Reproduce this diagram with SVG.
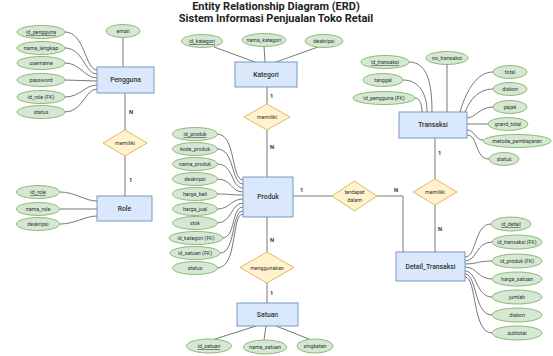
<svg xmlns="http://www.w3.org/2000/svg" width="553" height="356" viewBox="0 0 553 356">
<style>
text{font-family:Roboto,"Liberation Sans",Arial,sans-serif;fill:#333}
.title{font-size:11px;font-weight:700;fill:#222}
.ent rect{fill:#dae8fc;stroke:#6c8ebf;stroke-width:0.9}
.ent text{font-size:6.8px;font-weight:500;text-anchor:middle;dominant-baseline:central}
.att ellipse{fill:#d5e8d4;stroke:#82b366;stroke-width:0.9}
.att text{font-size:5.3px;text-anchor:middle;dominant-baseline:central}
.pk text{text-decoration:underline}
.rel polygon{fill:#fff2cc;stroke:#d6b656;stroke-width:0.9}
.rel text{font-size:5.3px;text-anchor:middle;dominant-baseline:central}
#connectors path{fill:none;stroke:#555;stroke-width:0.8}
.card{font-size:5.8px;font-weight:700;dominant-baseline:central}
</style>
<rect width="553" height="356" fill="#fff"/>
<text class="title" x="276" y="10" text-anchor="middle">Entity Relationship Diagram (ERD)</text>
<text class="title" x="276" y="22" text-anchor="middle">Sistem Informasi Penjualan Toko Retail</text>

<g id="connectors">
<!-- Pengguna attrs -->
<path d="M123,37 L123,67"/>
<path d="M65,32 C85,32 85,70 97,70"/>
<path d="M65,48 C83,48 85,74 97,74"/>
<path d="M65,63 C80,63 85,78 97,78"/>
<path d="M65,80 L97,81"/>
<path d="M65,97 C80,97 85,85 97,85"/>
<path d="M65,112 C83,112 85,89 97,89"/>
<!-- Pengguna-Role -->
<path d="M125,93 L125,130"/>
<path d="M125,156 L125,196"/>
<!-- Role attrs -->
<path d="M60,192 C75,192 85,201 97,201"/>
<path d="M60,209 L97,209"/>
<path d="M60,224 C75,224 85,216 97,216"/>
<!-- Kategori attrs -->
<path d="M214,47 L255,62"/>
<path d="M264,46 L265,62"/>
<path d="M318,47 L276,62"/>
<!-- Kategori-Produk -->
<path d="M267,87 L267,104"/>
<path d="M267,130 L267,177"/>
<!-- Produk attrs -->
<path d="M217,134 C236,134 231,180 243,180"/>
<path d="M217,149 C235,149 231,184 243,184"/>
<path d="M217,164 C234,164 231,188 243,188"/>
<path d="M217,179 C232,179 231,192 243,192"/>
<path d="M217,194 C230,194 231,195 243,195"/>
<path d="M217,209 C230,209 231,199 243,199"/>
<path d="M217,223 C232,223 231,203 243,203"/>
<path d="M222,238 C236,238 231,207 243,207"/>
<path d="M220,253 C236,253 231,211 243,211"/>
<path d="M217,268 C238,268 231,214 243,214"/>
<!-- Produk-Satuan -->
<path d="M267,217 L267,252"/>
<path d="M267,283 L267,303"/>
<!-- Satuan attrs -->
<path d="M256,326 L215,339"/>
<path d="M266,326 L264,340"/>
<path d="M276,326 L309,339"/>
<!-- Produk-Detail -->
<path d="M293,196 L332,196"/>
<path d="M377,196 L403,196 L403,252"/>
<!-- Transaksi attrs -->
<path d="M447,64 L447,112"/>
<path d="M409,62 C428,62 432,85 432,112"/>
<path d="M403,80 C420,80 427,95 427,112"/>
<path d="M415,98 C420,98 422,105 422,112"/>
<path d="M493,72 C475,72 465,95 460,112"/>
<path d="M493,89 C478,89 470,100 465,112"/>
<path d="M493,107 C480,107 475,118 467,118"/>
<path d="M488,124 L467,124"/>
<path d="M483,140 C475,140 475,130 467,130"/>
<path d="M489,159 C475,159 478,135 467,135"/>
<!-- Transaksi-Detail -->
<path d="M435,138 L435,179"/>
<path d="M435,205 L435,252"/>
<!-- Detail attrs -->
<path d="M491,224 C474,224 477,257 465,257"/>
<path d="M492,242 C476,242 477,261 465,261"/>
<path d="M492,261 C478,261 477,264 465,264"/>
<path d="M492,279 C478,279 477,267 465,267"/>
<path d="M492,297 C476,297 477,271 465,271"/>
<path d="M492,315 C474,315 477,274 465,274"/>
<path d="M492,333 C472,333 477,277 465,277"/>
</g>

<text class="card" x="129" y="112">N</text>
<text class="card" x="129" y="180">1</text>
<text class="card" x="270" y="96">1</text>
<text class="card" x="270" y="147">N</text>
<text class="card" x="270" y="240">N</text>
<text class="card" x="270" y="293">1</text>
<text class="card" x="300" y="190">1</text>
<text class="card" x="394" y="190">N</text>
<text class="card" x="438" y="153">1</text>
<text class="card" x="438" y="229">N</text>

<!-- Entities -->
<g id="pengguna" class="ent"><rect x="97" y="67" width="57" height="26"/><text x="125.5" y="80">Pengguna</text></g>
<g id="role" class="ent"><rect x="97" y="196" width="55" height="25"/><text x="124.5" y="208.5">Role</text></g>
<g id="kategori" class="ent"><rect x="235" y="62" width="62" height="25"/><text x="266" y="74.5">Kategori</text></g>
<g id="produk" class="ent"><rect x="243" y="177" width="50" height="40"/><text x="268" y="197">Produk</text></g>
<g id="satuan" class="ent"><rect x="237" y="303" width="61" height="23"/><text x="267.5" y="314.5">Satuan</text></g>
<g id="transaksi" class="ent"><rect x="399" y="112" width="68" height="26"/><text x="433" y="125">Transaksi</text></g>
<g id="detail_transaksi" class="ent"><rect x="396" y="252" width="69" height="29"/><text x="430.5" y="266.5">Detail_Transaksi</text></g>

<!-- Relationships -->
<g id="rel_pengguna_role" class="rel"><polygon points="125,130 147,143 125,156 103,143"/><text x="125" y="143">memiliki</text></g>
<g id="rel_kategori_produk" class="rel"><polygon points="267,104 290,117 267,130 244,117"/><text x="267" y="117">memiliki</text></g>
<g id="rel_produk_satuan" class="rel"><polygon points="267,252 294,267.5 267,283 240,267.5"/><text x="267" y="267.5">menggunakan</text></g>
<g id="rel_terdapat" class="rel"><polygon points="354.5,181 377,196 354.5,211 332,196"/><text x="354.5" y="192">terdapat</text><text x="354.5" y="200">dalam</text></g>
<g id="rel_transaksi_detail" class="rel"><polygon points="435,179 457,192 435,205 413,192"/><text x="435" y="192">memiliki</text></g>

<!-- Pengguna attributes -->
<g id="a_email" class="att"><ellipse cx="123" cy="31" rx="17" ry="6.5"/><text x="123" y="31">email</text></g>
<g id="a_id_pengguna" class="att pk"><ellipse cx="41" cy="32" rx="24" ry="6.5"/><text x="41" y="32">id_pengguna</text></g>
<g id="a_nama_lengkap" class="att"><ellipse cx="41" cy="48" rx="24" ry="6.5"/><text x="41" y="48">nama_lengkap</text></g>
<g id="a_username" class="att"><ellipse cx="41" cy="63" rx="24" ry="6.5"/><text x="41" y="63">username</text></g>
<g id="a_password" class="att"><ellipse cx="41" cy="80" rx="24" ry="6.5"/><text x="41" y="80">password</text></g>
<g id="a_id_role_fk" class="att"><ellipse cx="41" cy="97" rx="24" ry="6.5"/><text x="41" y="97">id_role (FK)</text></g>
<g id="a_pengguna_status" class="att"><ellipse cx="41" cy="112" rx="24" ry="6.5"/><text x="41" y="112">status</text></g>

<!-- Role attributes -->
<g id="a_id_role" class="att pk"><ellipse cx="38" cy="192" rx="21.5" ry="6.5"/><text x="38" y="192">id_role</text></g>
<g id="a_nama_role" class="att"><ellipse cx="38" cy="209" rx="21.5" ry="6.5"/><text x="38" y="209">nama_role</text></g>
<g id="a_role_deskripsi" class="att"><ellipse cx="38" cy="224" rx="21.5" ry="6.5"/><text x="38" y="224">deskripsi</text></g>

<!-- Kategori attributes -->
<g id="a_id_kategori" class="att pk"><ellipse cx="202" cy="41" rx="20.5" ry="6.5"/><text x="202" y="41">id_kategori</text></g>
<g id="a_nama_kategori" class="att"><ellipse cx="264" cy="40" rx="22" ry="6.5"/><text x="264" y="40">nama_kategori</text></g>
<g id="a_kategori_deskripsi" class="att"><ellipse cx="324" cy="41" rx="19" ry="6.5"/><text x="324" y="41">deskripsi</text></g>

<!-- Produk attributes -->
<g id="a_id_produk" class="att pk"><ellipse cx="195" cy="134" rx="22.5" ry="6.5"/><text x="195" y="134">id_produk</text></g>
<g id="a_kode_produk" class="att"><ellipse cx="195" cy="149" rx="22.5" ry="6.5"/><text x="195" y="149">kode_produk</text></g>
<g id="a_nama_produk" class="att"><ellipse cx="195" cy="164" rx="22.5" ry="6.5"/><text x="195" y="164">nama_produk</text></g>
<g id="a_produk_deskripsi" class="att"><ellipse cx="195" cy="179" rx="22.5" ry="6.5"/><text x="195" y="179">deskripsi</text></g>
<g id="a_harga_beli" class="att"><ellipse cx="195" cy="194" rx="22.5" ry="6.5"/><text x="195" y="194">harga_beli</text></g>
<g id="a_harga_jual" class="att"><ellipse cx="195" cy="209" rx="22.5" ry="6.5"/><text x="195" y="209">harga_jual</text></g>
<g id="a_stok" class="att"><ellipse cx="195" cy="223" rx="22.5" ry="6.5"/><text x="195" y="223">stok</text></g>
<g id="a_id_kategori_fk" class="att"><ellipse cx="196" cy="238" rx="27" ry="6.5"/><text x="196" y="238">id_kategori (FK)</text></g>
<g id="a_id_satuan_fk" class="att"><ellipse cx="195" cy="253" rx="25" ry="6.5"/><text x="195" y="253">id_satuan (FK)</text></g>
<g id="a_produk_status" class="att"><ellipse cx="195" cy="268" rx="22.5" ry="6.5"/><text x="195" y="268">status</text></g>

<!-- Satuan attributes -->
<g id="a_id_satuan" class="att pk"><ellipse cx="209" cy="346" rx="22.5" ry="7"/><text x="209" y="346">id_satuan</text></g>
<g id="a_nama_satuan" class="att"><ellipse cx="265" cy="347" rx="21.5" ry="7"/><text x="265" y="347">nama_satuan</text></g>
<g id="a_singkatan" class="att"><ellipse cx="315" cy="346" rx="18" ry="7"/><text x="315" y="346">singkatan</text></g>

<!-- Transaksi attributes -->
<g id="a_id_transaksi" class="att pk"><ellipse cx="385" cy="62" rx="24" ry="6.5"/><text x="385" y="62">id_transaksi</text></g>
<g id="a_no_transaksi" class="att"><ellipse cx="447" cy="58" rx="21" ry="6.5"/><text x="447" y="58">no_transaksi</text></g>
<g id="a_tanggal" class="att"><ellipse cx="383" cy="80" rx="20" ry="6.5"/><text x="383" y="80">tanggal</text></g>
<g id="a_id_pengguna_fk" class="att"><ellipse cx="384" cy="98" rx="31" ry="6.5"/><text x="384" y="98">id_pengguna (FK)</text></g>
<g id="a_total" class="att"><ellipse cx="510" cy="72" rx="17" ry="6.5"/><text x="510" y="72">total</text></g>
<g id="a_transaksi_diskon" class="att"><ellipse cx="510" cy="89" rx="17" ry="6.5"/><text x="510" y="89">diskon</text></g>
<g id="a_pajak" class="att"><ellipse cx="510" cy="107" rx="17" ry="6.5"/><text x="510" y="107">pajak</text></g>
<g id="a_grand_total" class="att"><ellipse cx="508" cy="124" rx="20" ry="6.5"/><text x="508" y="124">grand_total</text></g>
<g id="a_metode_pembayaran" class="att"><ellipse cx="517" cy="141" rx="34" ry="6.5"/><text x="517" y="141">metode_pembayaran</text></g>
<g id="a_transaksi_status" class="att"><ellipse cx="504" cy="159" rx="15" ry="6.5"/><text x="504" y="159">status</text></g>

<!-- Detail_Transaksi attributes -->
<g id="a_id_detail" class="att pk"><ellipse cx="511" cy="224" rx="20" ry="7"/><text x="511" y="224">id_detail</text></g>
<g id="a_id_transaksi_fk" class="att"><ellipse cx="517" cy="242" rx="25" ry="7"/><text x="517" y="242">id_transaksi (FK)</text></g>
<g id="a_id_produk_fk" class="att"><ellipse cx="517" cy="261" rx="25" ry="7"/><text x="517" y="261">id_produk (FK)</text></g>
<g id="a_harga_satuan" class="att"><ellipse cx="517" cy="279" rx="25" ry="7"/><text x="517" y="279">harga_satuan</text></g>
<g id="a_jumlah" class="att"><ellipse cx="517" cy="297" rx="25" ry="7"/><text x="517" y="297">jumlah</text></g>
<g id="a_detail_diskon" class="att"><ellipse cx="517" cy="315" rx="25" ry="7"/><text x="517" y="315">diskon</text></g>
<g id="a_subtotal" class="att"><ellipse cx="517" cy="333" rx="25" ry="7"/><text x="517" y="333">subtotal</text></g>
</svg>
